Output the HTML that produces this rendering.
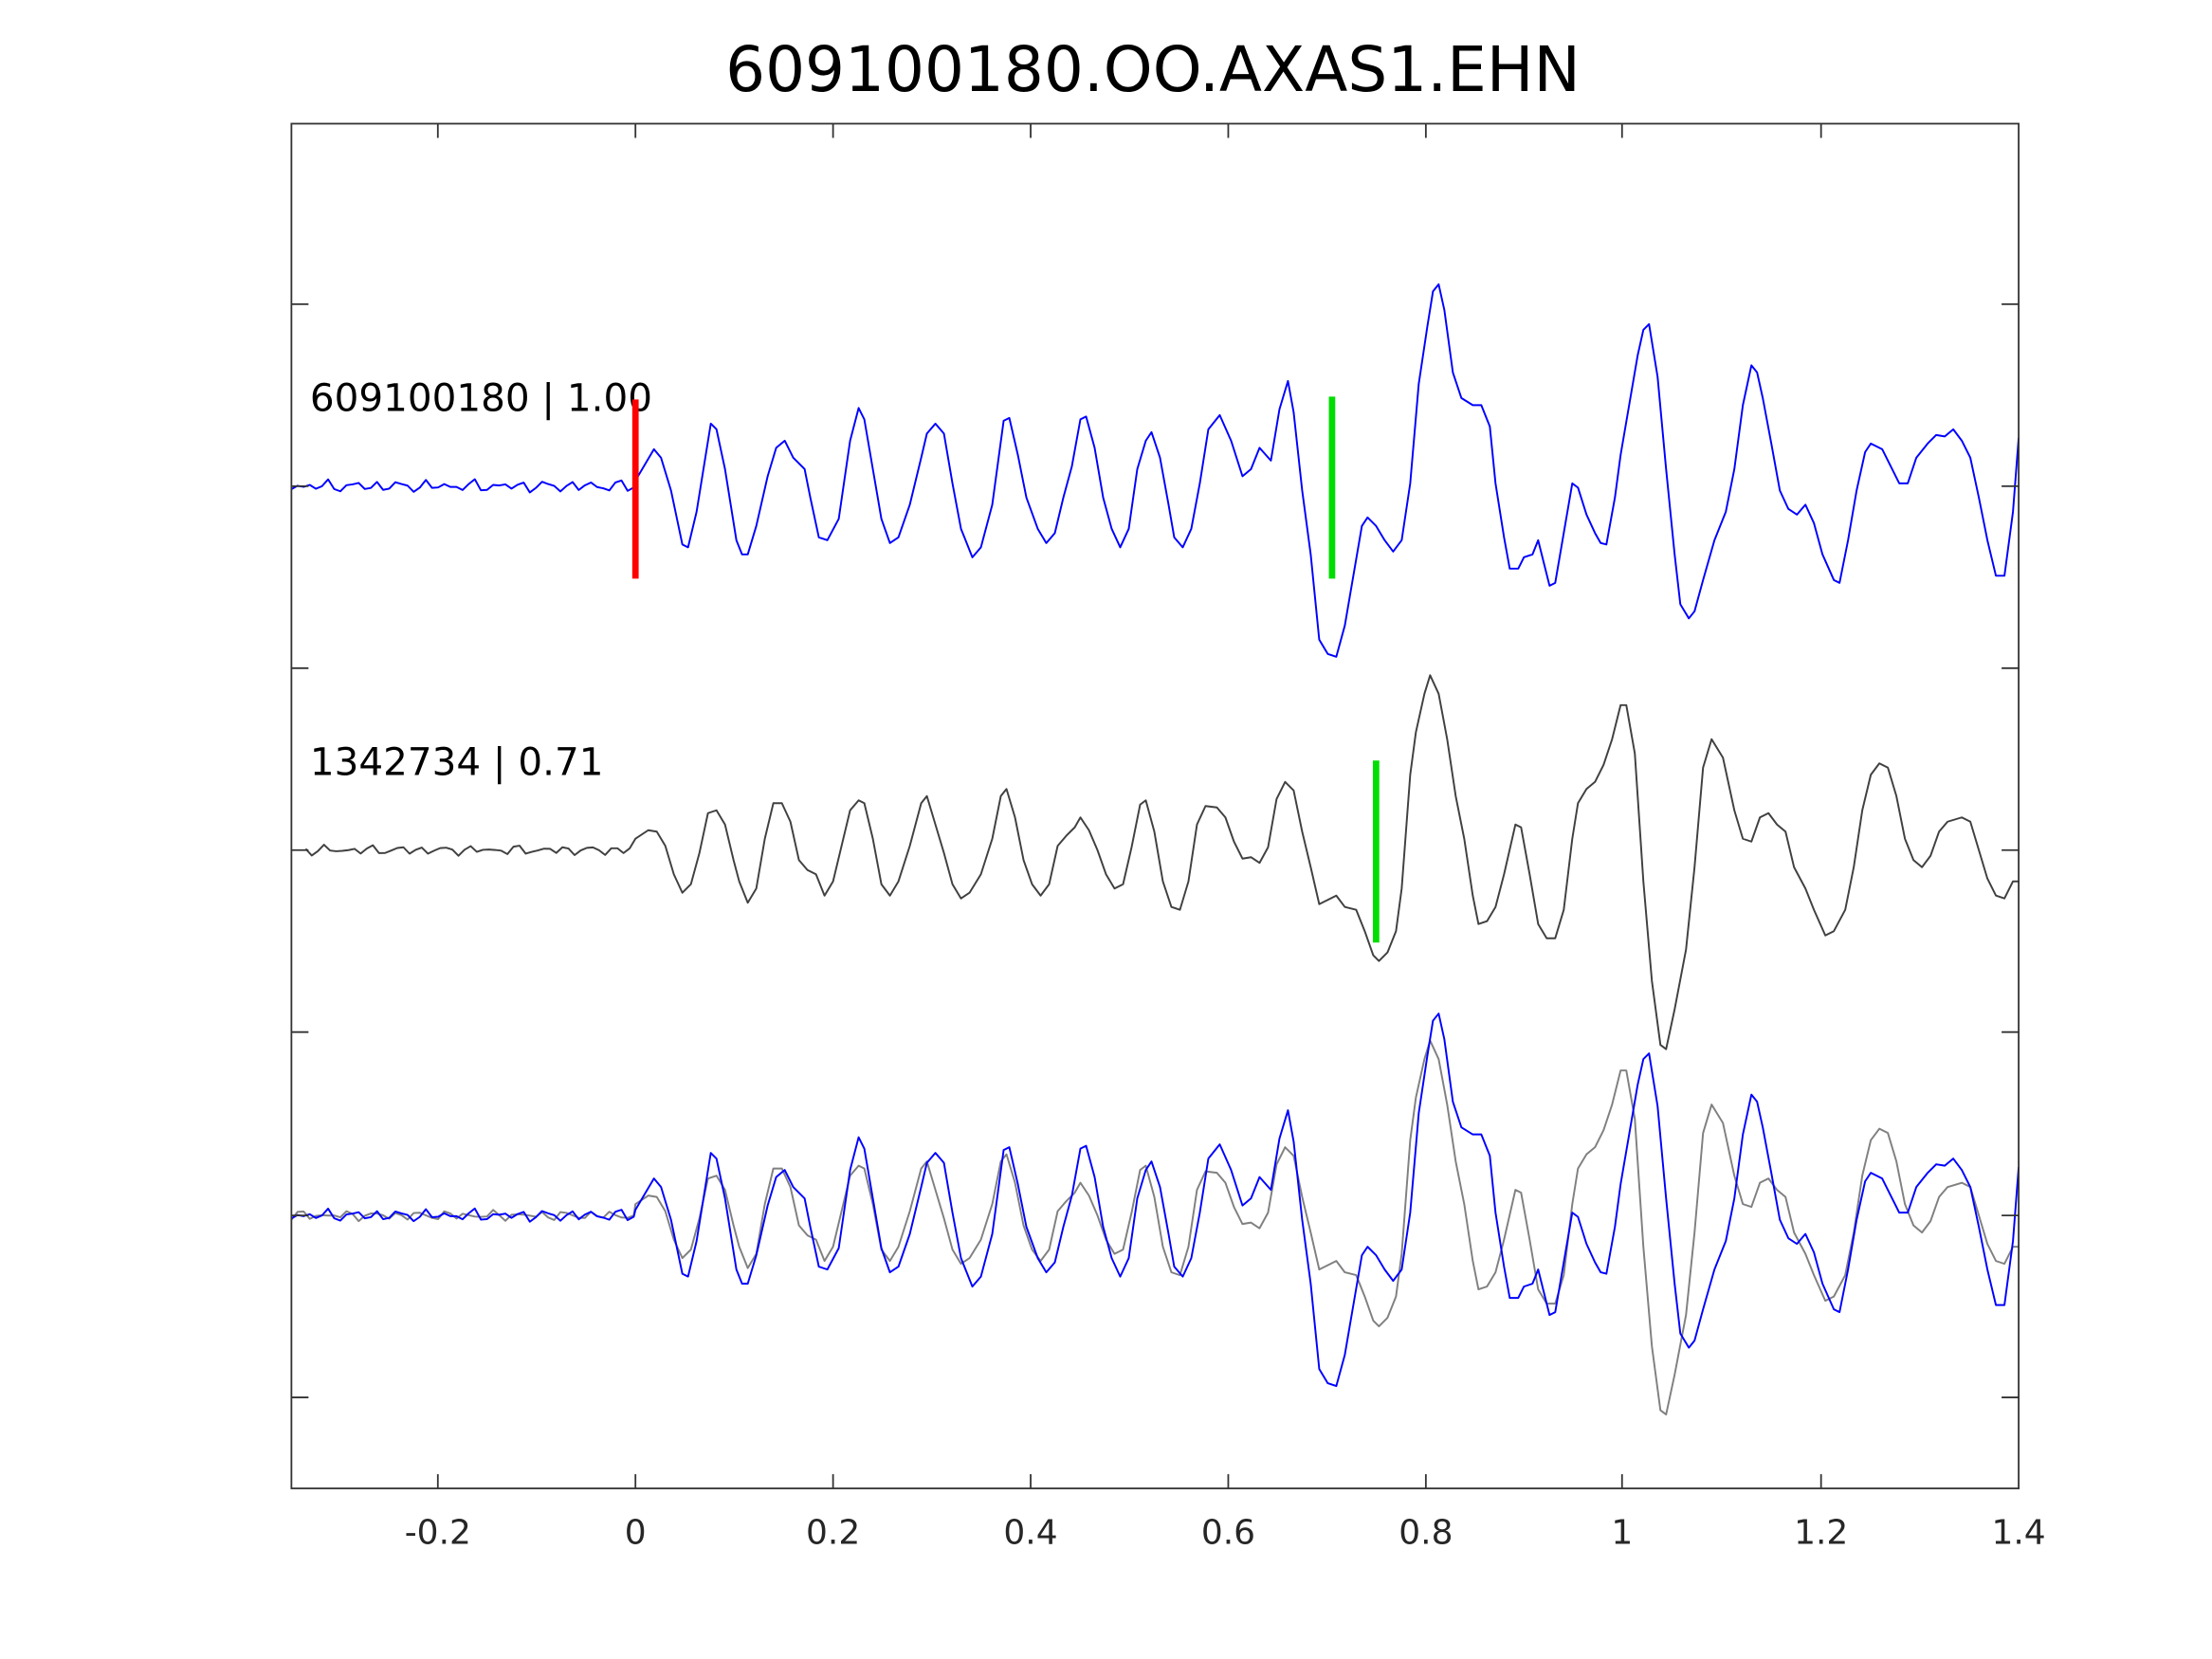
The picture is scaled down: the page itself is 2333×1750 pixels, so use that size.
<!DOCTYPE html>
<html><head><meta charset="utf-8"><style>
html,body{margin:0;padding:0;background:#fff;}
svg{display:block;}
text{font-family:"DejaVu Sans","Liberation Sans",sans-serif;}
</style></head><body>
<svg id="s" width="2333" height="1750" viewBox="0 0 1556 1167" preserveAspectRatio="none" xmlns="http://www.w3.org/2000/svg">
<rect width="1556" height="1167" fill="#fff"/>
<text x="811" y="64" font-size="44" text-anchor="middle" fill="#000">609100180.OO.AXAS1.EHN</text>
<g id="traces" fill="none" stroke-width="1.3" stroke-linejoin="round"></g>
<rect x="205" y="87" width="1215" height="960" fill="none" stroke="#333" stroke-width="1.2"/>
<g id="ticks" stroke="#333" stroke-width="1.2"></g>
<g font-size="24" fill="#262626" text-anchor="middle">
<text x="308" y="1086">-0.2</text><text x="447" y="1086">0</text><text x="586" y="1086">0.2</text>
<text x="725" y="1086">0.4</text><text x="864" y="1086">0.6</text><text x="1003" y="1086">0.8</text>
<text x="1141" y="1086">1</text><text x="1281" y="1086">1.2</text><text x="1420" y="1086">1.4</text>
</g>
<text x="218" y="289" font-size="27" fill="#000">609100180 | 1.00</text>
<text x="218" y="545" font-size="27" fill="#000">1342734 | 0.71</text>
<line x1="447" y1="281" x2="447" y2="407" stroke="#f00" stroke-width="4.5"/>
<line x1="937" y1="279" x2="937" y2="407" stroke="#0d0" stroke-width="4.5"/>
<line x1="968" y1="535" x2="968" y2="663" stroke="#0d0" stroke-width="4.5"/>
</svg>
<script>
var b=[447,338,460,316,465,322,472,345,480,383,484,385,490,360,500,298,504,302,510,330,518,380,522,390,526,390,532,370,540,335,546,315,552,310,558,322,566,330,570,350,576,378,582,380,590,365,598,310,604,287,608,295,614,330,620,365,626,382,632,378,640,355,648,322,652,305,658,298,664,305,670,340,676,372,684,392,690,385,698,355,706,296,710,294,716,320,722,350,730,372,736,382,742,375,748,350,754,328,760,295,764,293,770,315,776,350,782,372,788,385,794,372,800,330,806,310,810,304,816,322,822,355,826,378,832,385,838,372,844,340,850,302,858,292,866,310,874,335,880,330,886,315,894,324,900,288,906,268,910,290,916,345,922,390,928,450,934,460,940,462,946,440,952,405,958,370,962,364,968,370,974,380,980,388,986,380,992,340,998,270,1004,230,1008,205,1012,200,1016,218,1022,262,1028,280,1036,285,1042,285,1048,300,1052,340,1058,378,1062,400,1068,400,1072,392,1078,390,1082,380,1086,396,1090,412,1094,410,1100,375,1106,340,1110,343,1116,362,1122,375,1126,382,1130,383,1136,350,1140,320,1146,285,1152,250,1156,232,1160,228,1166,265,1172,330,1178,390,1182,425,1188,435,1192,430,1198,408,1206,380,1214,360,1220,330,1226,285,1232,257,1236,262,1240,280,1246,312,1252,345,1258,358,1264,362,1270,355,1276,368,1282,390,1290,408,1294,410,1300,380,1306,345,1312,318,1316,312,1324,316,1330,328,1336,340,1342,340,1348,322,1356,312,1362,306,1368,307,1374,302,1380,310,1386,322,1392,350,1398,380,1404,405,1410,405,1416,360,1420,308];
var g=[447,590,456,584,462,585,468,595,474,615,480,628,486,622,492,600,498,572,504,570,510,580,516,605,520,620,526,635,532,625,538,590,544,565,550,565,556,578,562,605,568,612,574,615,580,630,586,620,592,595,598,570,604,563,608,565,614,590,620,622,626,630,632,620,640,595,648,565,652,560,658,580,664,600,670,622,676,632,682,628,690,615,698,590,704,560,708,555,714,575,720,605,726,622,732,630,738,622,744,595,750,588,756,582,760,575,766,584,772,598,778,615,784,625,790,622,796,596,802,566,806,563,812,585,818,620,824,638,830,640,836,620,842,580,848,567,856,568,862,575,868,592,874,604,880,603,886,607,892,596,898,562,904,550,910,556,916,585,922,610,928,636,934,633,940,630,946,638,954,640,960,655,966,672,970,676,976,670,982,655,986,625,992,545,996,515,1002,488,1006,475,1012,488,1018,520,1024,560,1030,590,1036,630,1040,650,1046,648,1052,638,1058,615,1066,580,1070,582,1076,615,1082,650,1088,660,1094,660,1100,640,1106,590,1110,565,1116,555,1122,550,1128,538,1134,520,1140,496,1144,496,1150,530,1156,620,1162,690,1168,735,1172,738,1178,710,1186,668,1192,610,1198,540,1204,520,1212,533,1220,570,1226,590,1232,592,1238,575,1244,572,1250,580,1256,585,1262,610,1270,625,1276,640,1284,658,1290,655,1298,640,1304,610,1310,570,1316,545,1322,537,1328,540,1334,560,1340,590,1346,605,1352,610,1358,602,1364,585,1370,578,1380,575,1386,578,1392,598,1398,618,1404,630,1410,632,1416,620,1420,620];
function noise(base,amp,seed,start){var p=[];for(var x=start;x<447;x+=4.3){var v=Math.sin(x*0.37+seed)*0.5+Math.sin(x*0.91+seed*2)*0.35+Math.sin(x*1.7+seed*3)*0.25;p.push(x.toFixed(1)+','+(base+v*amp).toFixed(1));}return p;}
function path(arr,dy,base,amp,seed,color,start,w){var p=noise(base+dy-0,amp,seed,start);for(var i=0;i<arr.length;i+=2)p.push(arr[i]+','+(arr[i+1]+dy));return '<polyline points="'+p.join(' ')+'" stroke="'+color+'" stroke-width="'+w+'"/>';}
var h='';
h+=path(b,0,342,5,1,'#0000ff',205,1.3);
h+=path(g,0,598,4,2,'#404040',215,1.3);
h+=path(g,257,598,4,2,'#808080',205,1.3);
h+=path(b,513,342,5,1,'#0000ff',205,1.3);
document.getElementById('traces').innerHTML=h;
var t='';[308,447,586,725,864,1003,1141,1281].forEach(function(x){t+='<line x1="'+x+'" y1="1047" x2="'+x+'" y2="1037"/><line x1="'+x+'" y1="87" x2="'+x+'" y2="97"/>';});
[214,342,470,598,726,855,983].forEach(function(y){t+='<line x1="205" y1="'+y+'" x2="217" y2="'+y+'"/><line x1="1420" y1="'+y+'" x2="1408" y2="'+y+'"/>';});
document.getElementById('ticks').innerHTML=t;
</script>
</body></html>
